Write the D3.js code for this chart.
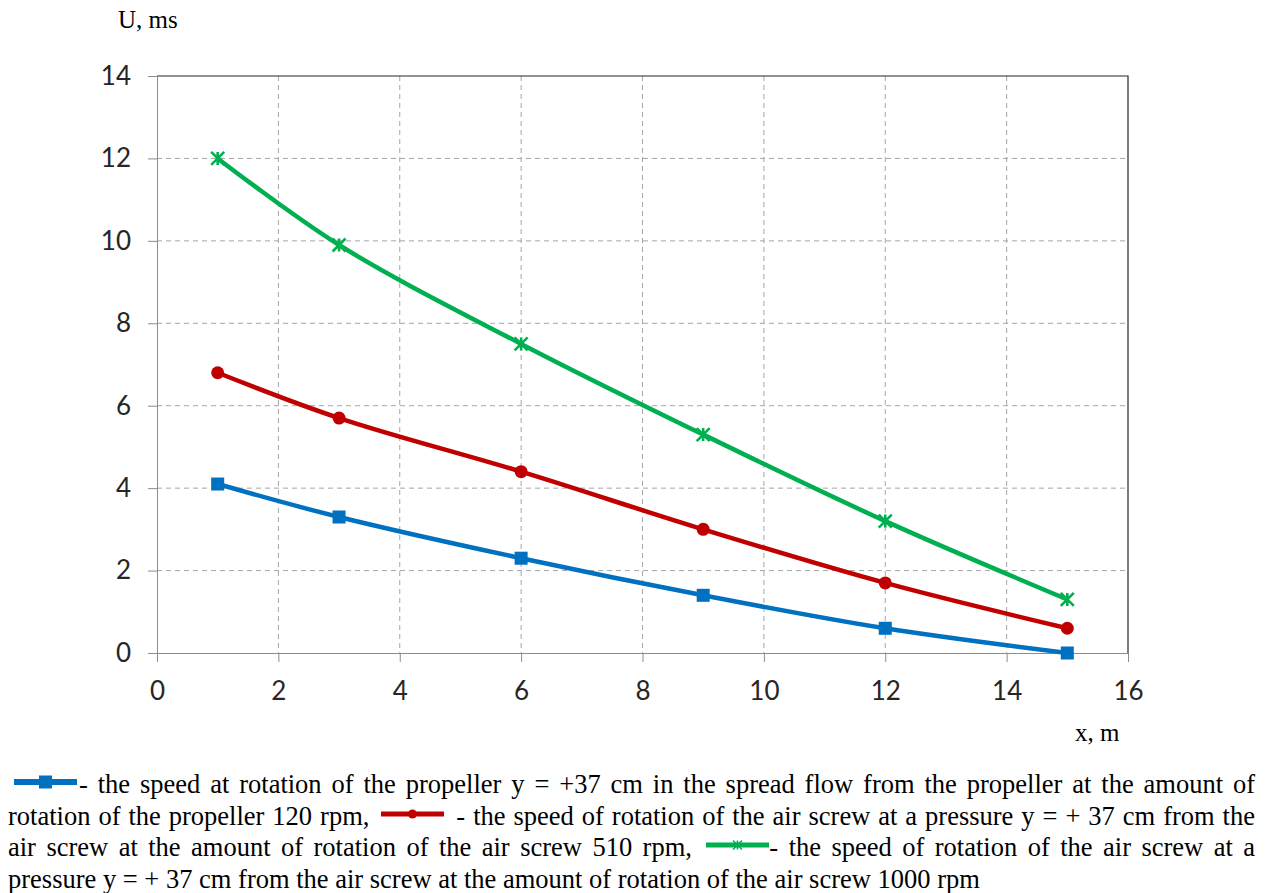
<!DOCTYPE html>
<html>
<head>
<meta charset="utf-8">
<script src="https://cdn.jsdelivr.net/npm/d3@7"></script>
<style>
  html, body { margin: 0; padding: 0; background: #fff; }
  #chart { position: absolute; left: 0; top: 0; }
  .legend {
    position: absolute; left: 8px; top: 769px; width: 1247px;
    font-family: "Liberation Serif", "Times New Roman", serif;
    font-size: 26.5px; line-height: 31.5px; color: #000;
  }
  .legend div { white-space: nowrap; }
  .legend .j { text-align: justify; text-align-last: justify; white-space: normal; }
</style>
</head>
<body>
<div id="chart"></div>
<div class="legend" id="legend"></div>
<script>
  const xTicks = [0, 2, 4, 6, 8, 10, 12, 14, 16];
  const yTicks = [0, 2, 4, 6, 8, 10, 12, 14];
  const xValues = [1, 3, 6, 9, 12, 15];
  const blueValues = [4.1, 3.3, 2.3, 1.4, 0.6, 0.0];
  const redValues = [6.8, 5.7, 4.4, 3.0, 1.7, 0.6];
  const greenValues = [12.0, 9.9, 7.5, 5.3, 3.2, 1.3];

(() => {
  const series = [
    { name: 'blue', color: '#0070C0', marker: 'square', values: blueValues },
    { name: 'red', color: '#C00000', marker: 'circle', values: redValues },
    { name: 'green', color: '#00B050', marker: 'star', values: greenValues },
  ];

  const W = 1274, H = 760;
  const mLeft = 157, mRight = 1128, mTop = 76, mBottom = 653;

  const x = d3.scaleLinear().domain([0, 16]).range([mLeft, mRight]);
  const y = d3.scaleLinear().domain([0, 14]).range([mBottom, mTop]);

  const svg = d3.select('#chart').append('svg')
    .attr('width', W).attr('height', H);

  // grid
  svg.append('g').selectAll('line').data(xTicks.filter(t => t > 0 && t < 16)).join('line')
    .attr('x1', d => x(d)).attr('x2', d => x(d))
    .attr('y1', mTop).attr('y2', mBottom)
    .attr('stroke', '#a6a6a6').attr('stroke-width', 1).attr('stroke-dasharray', '5,4');
  svg.append('g').selectAll('line').data(yTicks.filter(t => t > 0 && t < 14)).join('line')
    .attr('x1', mLeft).attr('x2', mRight)
    .attr('y1', d => y(d)).attr('y2', d => y(d))
    .attr('stroke', '#a6a6a6').attr('stroke-width', 1).attr('stroke-dasharray', '5,4');

  // frame top/right
  svg.append('path')
    .attr('d', `M${mLeft},${mTop}H${mRight}V${mBottom}`)
    .attr('fill', 'none').attr('stroke', '#262626').attr('stroke-width', 1.2);

  const tickFont = 'Lato, "Open Sans", sans-serif';

  const yAxis = svg.append('g')
    .attr('transform', `translate(${mLeft},0)`)
    .call(d3.axisLeft(y).tickValues(yTicks).tickSize(9).tickPadding(17).tickSizeOuter(0));
  const xAxis = svg.append('g')
    .attr('transform', `translate(0,${mBottom})`)
    .call(d3.axisBottom(x).tickValues(xTicks).tickSize(9).tickPadding(20).tickSizeOuter(0));
  [xAxis, yAxis].forEach(a => {
    a.select('.domain').attr('stroke', '#8c8c8c');
    a.selectAll('.tick line').attr('stroke', '#8c8c8c');
    a.selectAll('.tick text').attr('fill', '#262626')
      .style('font-family', tickFont).style('font-size', '26px');
  });

  // axis titles
  svg.append('text').attr('x', 118).attr('y', 28)
    .style('font-family', '"Liberation Serif", serif').style('font-size', '25px')
    .text('U, ms');
  svg.append('text').attr('x', 1075).attr('y', 741)
    .style('font-family', '"Liberation Serif", serif').style('font-size', '25px')
    .text('x, m');

  const line = d3.line()
    .x(d => x(d[0])).y(d => y(d[1]))
    .curve(d3.curveCatmullRom.alpha(0.5));

  function drawMarker(g, type, color, cx, cy, s, sw) {
    if (type === 'square') {
      g.append('rect').attr('x', cx - s).attr('y', cy - s)
        .attr('width', 2 * s).attr('height', 2 * s).attr('fill', color);
    } else if (type === 'circle') {
      g.append('circle').attr('cx', cx).attr('cy', cy).attr('r', s).attr('fill', color);
    } else {
      const p = d3.path();
      p.moveTo(cx - s, cy - s); p.lineTo(cx + s, cy + s);
      p.moveTo(cx - s, cy + s); p.lineTo(cx + s, cy - s);
      p.moveTo(cx, cy - s); p.lineTo(cx, cy + s);
      g.append('path').attr('d', p.toString())
        .attr('stroke', color).attr('stroke-width', sw || 2.6).attr('fill', 'none');
    }
  }

  const sizes = { square: 6.5, circle: 6.5, star: 6.5 };

  series.forEach(s => {
    const pts = xValues.map((xv, i) => [xv, s.values[i]]);
    const g = svg.append('g');
    g.append('path').attr('d', line(pts))
      .attr('fill', 'none').attr('stroke', s.color).attr('stroke-width', 4.5);
    pts.forEach(p => drawMarker(g, s.marker, s.color, x(p[0]), y(p[1]), sizes[s.marker]));
  });

  // legend
  function legendIcon(s, ml, mr) {
    const w = 63, h = 16;
    const icon = d3.create('svg').attr('width', w).attr('height', h)
      .style('vertical-align', '3px')
      .style('margin-left', `${ml}px`).style('margin-right', `${mr}px`);
    icon.append('line').attr('x1', 0).attr('x2', w).attr('y1', h / 2).attr('y2', h / 2)
      .attr('stroke', s.color).attr('stroke-width', s.marker === 'square' ? 6 : 5);
    const ms = s.marker === 'square' ? 6.5 : 4.5;
    drawMarker(icon, s.marker, s.color, w / 2, h / 2, ms, 1.6);
    return icon.node().outerHTML;
  }

  const lines = [
    { cls: 'j', html: `${legendIcon(series[0], 6, 2)}- the speed at rotation of the propeller y = +37 cm in the spread flow from the propeller at the amount of` },
    { cls: 'j', html: `rotation of the propeller 120 rpm, ${legendIcon(series[1], 4, 4)} - the speed of rotation of the air screw at a pressure y = + 37 cm from the` },
    { cls: 'j', html: `air screw at the amount of rotation of the air screw 510 rpm, ${legendIcon(series[2], 4, 0)}- the speed of rotation of the air screw at a` },
    { cls: '', html: 'pressure y = + 37 cm from the air screw at the amount of rotation of the air screw 1000 rpm' },
  ];
  d3.select('#legend').selectAll('div').data(lines).join('div')
    .attr('class', d => d.cls).html(d => d.html);
})();
</script>
</body>
</html>
